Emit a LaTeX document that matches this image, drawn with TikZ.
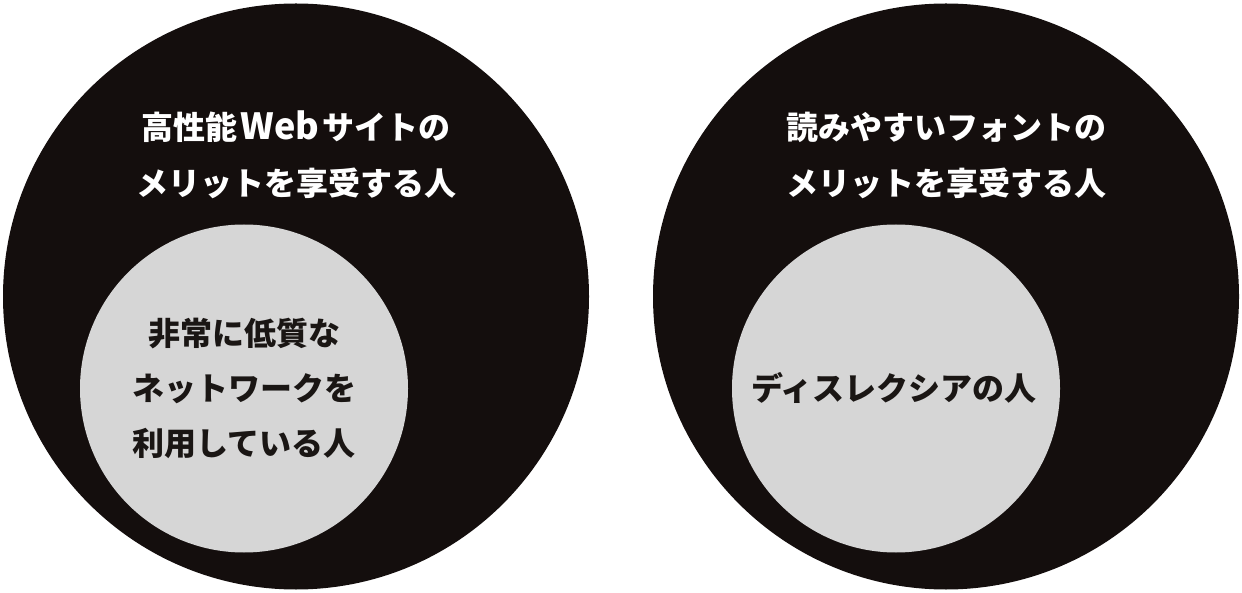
\documentclass[tikz,border=0pt]{standalone}
\usepackage{fontspec}
\newfontfamily\jp{Noto Sans CJK JP}
\definecolor{bigc}{HTML}{140E0D}
\definecolor{smallc}{HTML}{D6D6D6}
\definecolor{darktext}{HTML}{1A1614}
\begin{document}
\begin{tikzpicture}[x=1pt,y=-1pt,
  outer/.style={circle,fill=bigc,draw=none,minimum size=586pt,inner sep=0pt},
  inner/.style={circle,fill=smallc,draw=none,minimum size=328pt,inner sep=0pt},
  wlabel/.style={text=white,font=\jp\bfseries\fontsize{32}{56}\selectfont,align=center,inner sep=0pt},
  dlabel/.style={text=darktext,font=\jp\bfseries\fontsize{32}{55}\selectfont,align=center,inner sep=0pt}]
\useasboundingbox (0,0) rectangle (1242,593);
\node[outer] (L) at (296,296.5) {};
\node[outer] (R) at (946,296.5) {};
\node[inner] (Li) at (244,388.5) {};
\node[inner] (Ri) at (896,388.5) {};
\node[wlabel] (Lt) at (296,155) {高性能\kern3pt{\fontsize{36}{56}\selectfont Web}\kern3ptサイトの\\メリットを享受する人};
\node[wlabel] (Rt) at (946,155) {読みやすいフォントの\\メリットを享受する人};
\node[dlabel] (Lit) at (244,388) {非常に低質な\\ネットワークを\\利用している人};
\node[dlabel] (Rit) at (894,388) {ディスレクシアの人};
\end{tikzpicture}
\end{document}
